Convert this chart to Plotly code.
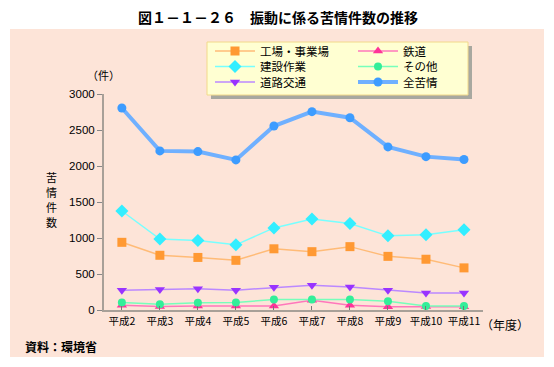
import plotly.graph_objects as go

years = ["平成2", "平成3", "平成4", "平成5", "平成6", "平成7", "平成8", "平成9", "平成10", "平成11"]
factory = [940, 760, 730, 690, 850, 810, 880, 745, 705, 585]
railway = [65, 50, 55, 55, 55, 135, 65, 45, 50, 45]
construction = [1375, 985, 965, 905, 1140, 1265, 1200, 1030, 1045, 1115]
other = [105, 80, 100, 105, 145, 145, 145, 120, 55, 55]
road = [275, 285, 295, 275, 315, 345, 320, 275, 235, 235]
total = [2805, 2210, 2200, 2085, 2555, 2755, 2670, 2265, 2130, 2090]

FONT = "Noto Sans CJK JP"
W, H = 554, 367
L, R, T, B = 104, 71, 94, 57
pw, ph = W - L - R, H - T - B

def px(x):
    return (x - L) / pw

def py(y):
    return (H - B - y) / ph

# name, values, line colour, marker colour, symbol, size, line width, legend id, legend x, legend y
series = [
    ("工場・事業場", factory, "#ffbb77", "#ff9933", "square", 9, 1.5, "legend", 210, 51),
    ("建設作業", construction, "#77ffff", "#33eeff", "diamond", 10, 1.5, "legend2", 210, 66.5),
    ("道路交通", road, "#bb88ff", "#9933ff", "triangle-down", 9, 1.5, "legend3", 210, 82),
    ("鉄道", railway, "#ff77bb", "#ff3399", "triangle-up", 9, 1.5, "legend4", 353, 51),
    ("その他", other, "#77ffbb", "#33ee99", "circle", 8, 1.5, "legend5", 353, 66.5),
    ("全苦情", total, "#6fb0ff", "#3d9cff", "circle", 9, 4, "legend6", 353, 82),
]

fig = go.Figure()
legends = {}
for name, vals, lc, mc, sym, sz, lw, lg, lx, ly in series:
    fig.add_trace(go.Scatter(
        x=years, y=vals, name=name, mode="lines+markers",
        line=dict(color=lc, width=lw),
        marker=dict(color=mc, symbol=sym, size=sz),
        legend=lg, showlegend=True,
    ))
    legends[lg] = dict(x=px(lx), y=py(ly), xanchor="left", yanchor="middle",
                       bgcolor="rgba(0,0,0,0)", borderwidth=0,
                       font=dict(family=FONT, size=11.5, color="#000"), itemwidth=40)

shapes = [
    dict(type="rect", xref="paper", yref="paper", x0=px(10), x1=px(544), y0=py(357), y1=py(29),
         fillcolor="#fde4d8", line=dict(width=0), layer="below"),
    dict(type="rect", xref="paper", yref="paper", x0=px(211), x1=px(472), y0=py(99), y1=py(46),
         fillcolor="#a8a8a0", line=dict(width=0), layer="above"),
    dict(type="rect", xref="paper", yref="paper", x0=px(207), x1=px(468), y0=py(95), y1=py(42),
         fillcolor="#ffffd2", line=dict(color="#f2d98a", width=1), layer="above"),
]

annotations = [
    dict(text="<b>図１－１－２６　振動に係る苦情件数の推移</b>", xref="paper", yref="paper",
         x=px(278), y=py(17), showarrow=False, font=dict(family=FONT, size=14, color="#000"),
         xanchor="center", yanchor="middle"),
    dict(text="（件）", xref="paper", yref="paper", x=px(103), y=py(75), showarrow=False,
         font=dict(family=FONT, size=11, color="#000"), xanchor="center", yanchor="middle"),
    dict(text="（年度）", xref="paper", yref="paper", x=px(479), y=py(324), showarrow=False,
         font=dict(family=FONT, size=12, color="#000"), xanchor="left", yanchor="middle"),
    dict(text="<b>資料：環境省</b>", xref="paper", yref="paper", x=px(23), y=py(346), showarrow=False,
         font=dict(family=FONT, size=12, color="#000"), xanchor="left", yanchor="middle"),
]
for i, ch in enumerate("苦情件数"):
    annotations.append(dict(text=ch, xref="paper", yref="paper", x=px(51), y=py(177 + 15 * i),
                            showarrow=False, font=dict(family=FONT, size=11, color="#000"),
                            xanchor="center", yanchor="middle", borderpad=0))

fig.update_layout(
    width=W, height=H,
    margin=dict(l=L, r=R, t=T, b=B, pad=0),
    paper_bgcolor="white", plot_bgcolor="rgba(0,0,0,0)",
    font=dict(family=FONT, size=11, color="#000"),
    shapes=shapes, annotations=annotations, showlegend=True,
    xaxis=dict(type="category", range=[-0.47, 9.5], showgrid=False, showline=True,
               linecolor="#a8a098", linewidth=2, ticks="inside", ticklen=4, tickcolor="#777",
               tickfont=dict(family=FONT, size=10.5), zeroline=False),
    yaxis=dict(range=[0, 3000], dtick=500, showgrid=False, showline=True,
               linecolor="#a8a098", linewidth=2, ticks="outside", ticklen=5, tickcolor="#888",
               tickfont=dict(family="Liberation Sans", size=11.5), zeroline=False),
    **legends,
)

fig.write_html("out.html", config={"displayModeBar": False},
               post_script="document.body.style.margin='0';")
